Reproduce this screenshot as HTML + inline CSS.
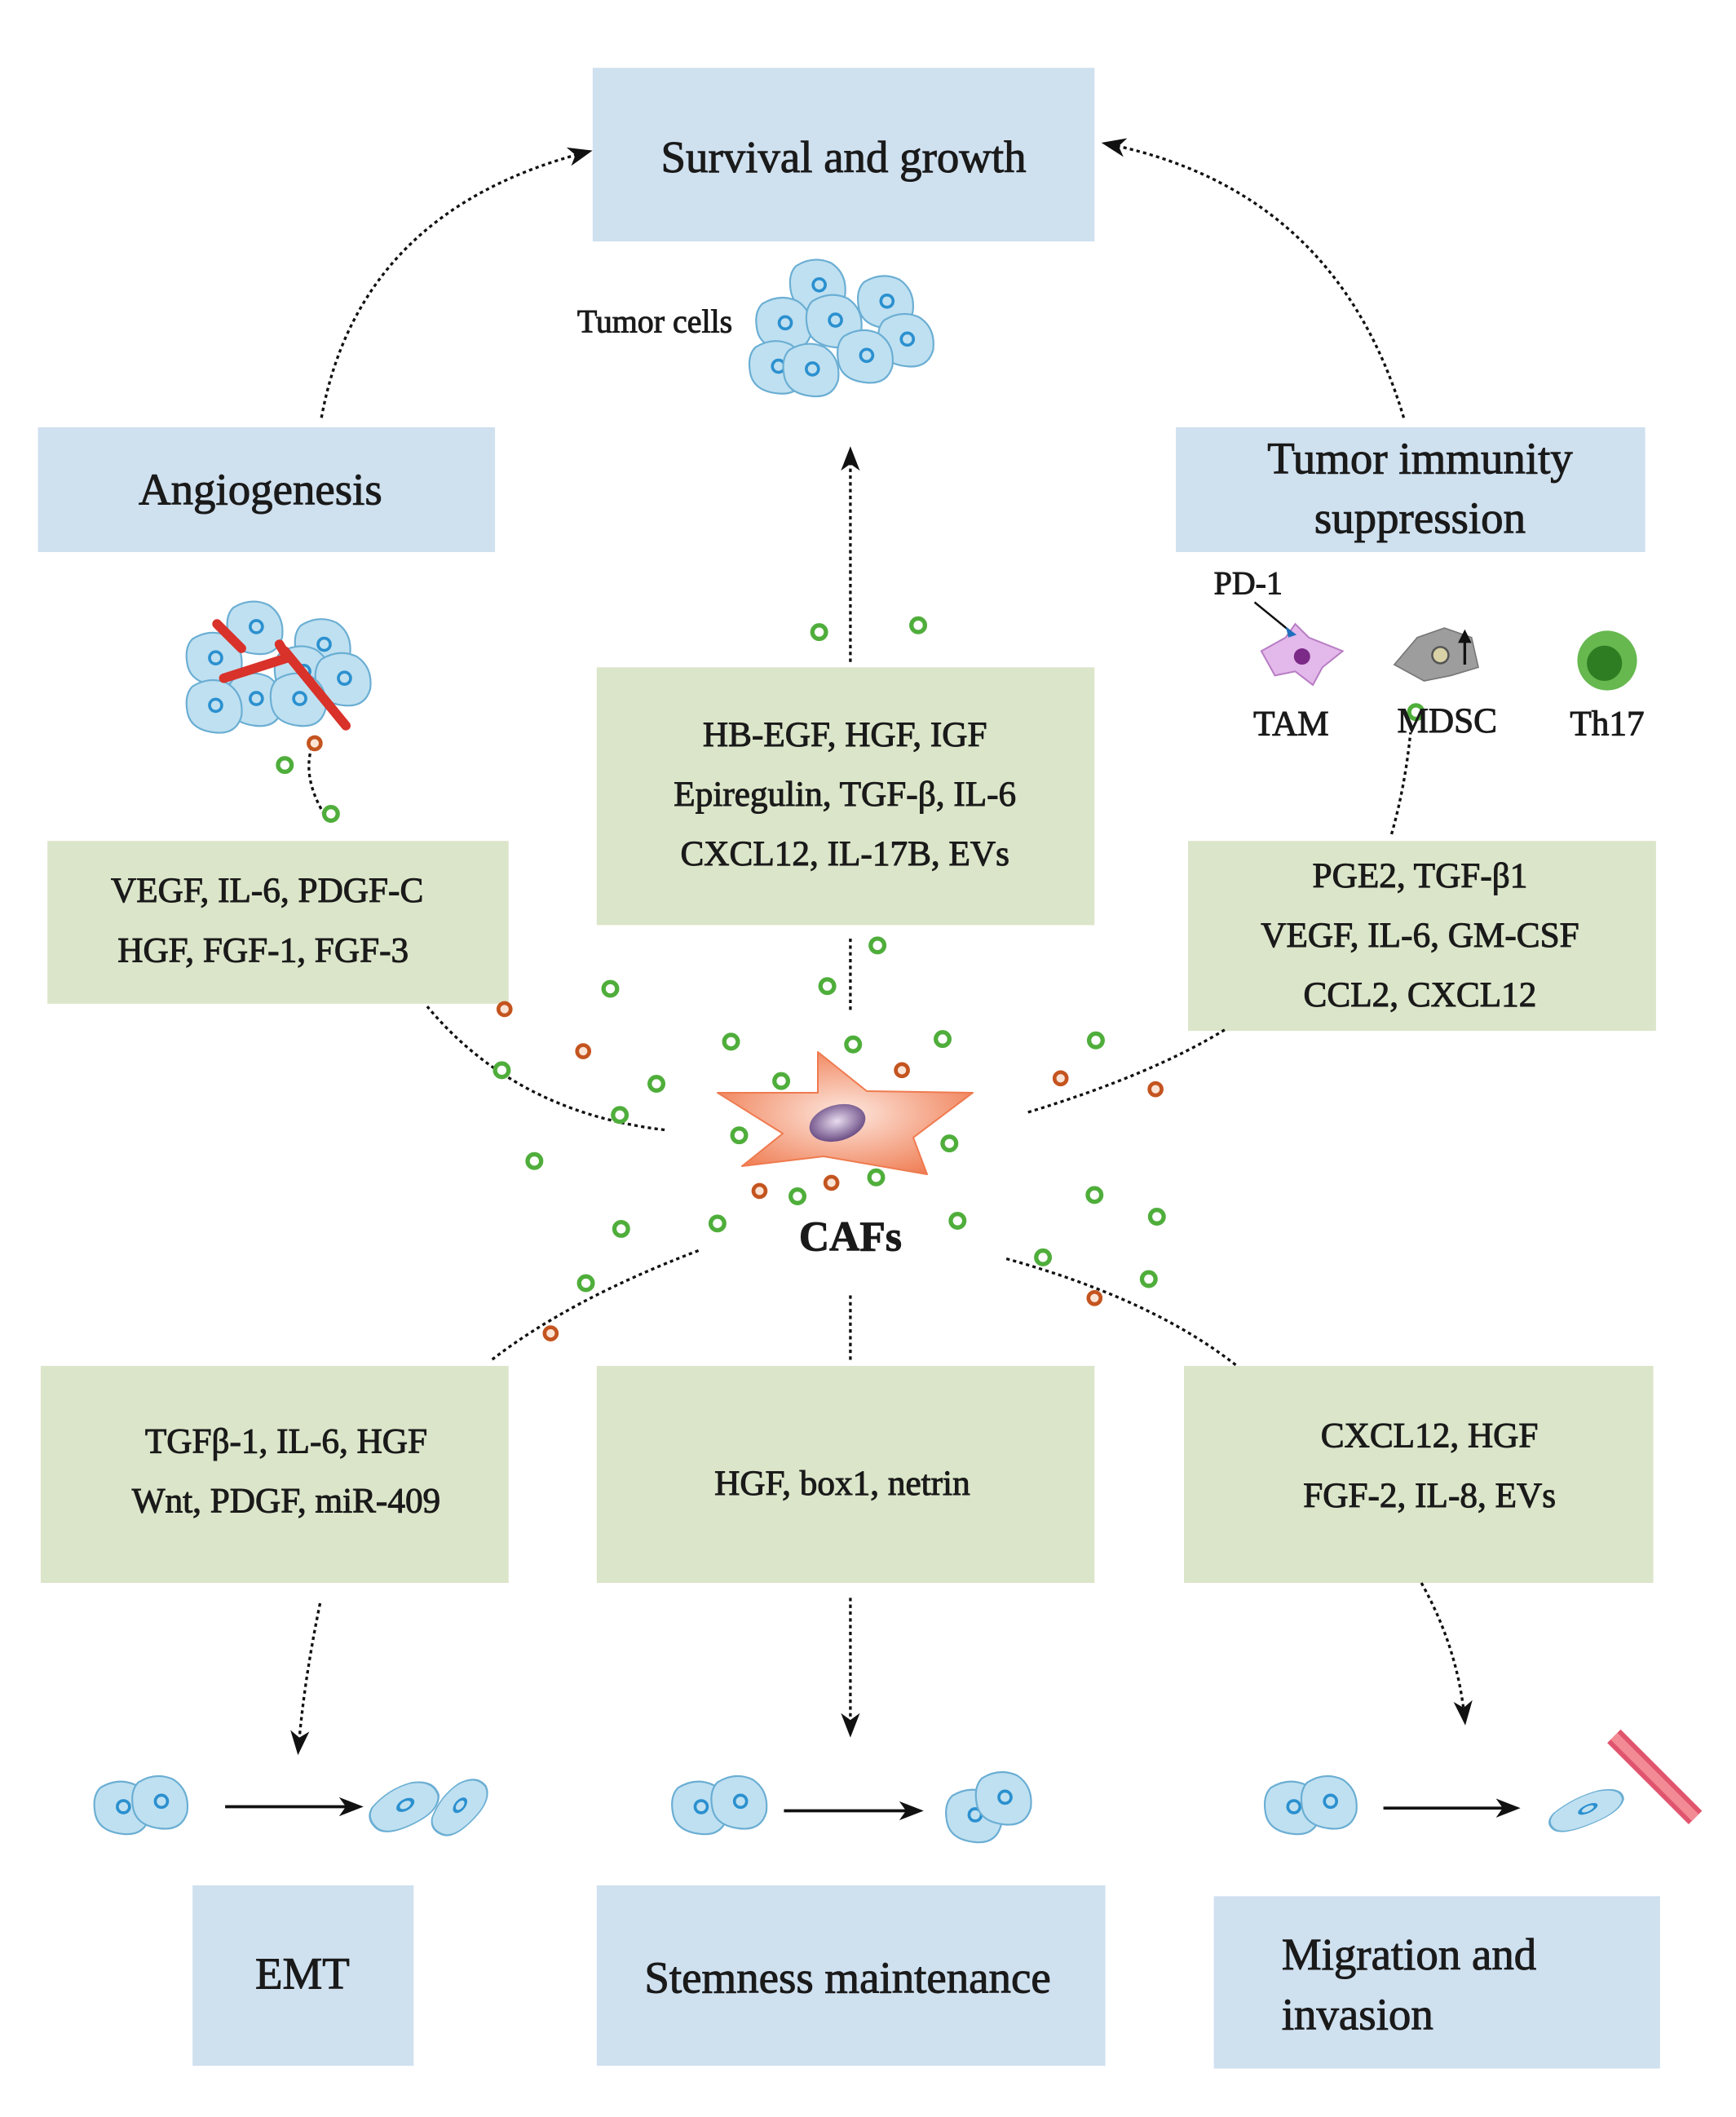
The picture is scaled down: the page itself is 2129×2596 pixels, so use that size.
<!DOCTYPE html>
<html><head><meta charset="utf-8"><style>
html,body{margin:0;padding:0;background:#fff;}
svg{display:block;}
text{font-family:"Liberation Serif",serif;fill:#1a1a1a;stroke:#1a1a1a;stroke-width:0.6px;}
</style></head><body>
<svg width="2129" height="2596" viewBox="0 0 2129 2596" xmlns="http://www.w3.org/2000/svg">
<defs>
<marker id="ah" markerWidth="18" markerHeight="14" refX="14" refY="7" orient="auto" markerUnits="userSpaceOnUse">
<path d="M0,0 L18,7 L0,14 L5,7 Z" fill="#111"/></marker>
<radialGradient id="star" cx="0.5" cy="0.5" r="0.6"><stop offset="0" stop-color="#fde7de"/><stop offset="1" stop-color="#ef7a4f"/></radialGradient>
<radialGradient id="nuc" cx="0.5" cy="0.45" r="0.6"><stop offset="0" stop-color="#e9dcef"/><stop offset="1" stop-color="#5e3f7a"/></radialGradient>
<g id="cell"><path d="M-18,-14 Q-5,-22 8,-16 Q20,-8 18,8 Q14,22 -2,20 Q-20,18 -22,4 Q-24,-8 -18,-14Z" fill="#bfe0f1" stroke="#6aaed3" stroke-width="1.3"/><circle cx="-1" cy="0" r="4.5" fill="none" stroke="#2b90cf" stroke-width="2.2"/></g>
<g id="gd"><circle r="5" fill="#fff" stroke="#4fae3b" stroke-width="3.2"/></g>
<g id="od"><circle r="4.5" fill="#fbe4d6" stroke="#c4541f" stroke-width="2.8"/></g>
</defs>

<g transform="scale(1.6633)">
<g fill="#cfe0ef">
<rect x="437" y="50" width="370" height="128"/>
<rect x="28" y="315" width="337" height="92"/>
<rect x="867" y="315" width="346" height="92"/>
<rect x="142" y="1390" width="163" height="133"/>
<rect x="440" y="1390" width="375" height="133"/>
<rect x="895" y="1398" width="329" height="127"/>
</g>
<g fill="#dbe5c9">
<rect x="440" y="492" width="367" height="190"/>
<rect x="35" y="620" width="340" height="120"/>
<rect x="876" y="620" width="345" height="140"/>
<rect x="30" y="1007" width="345" height="160"/>
<rect x="440" y="1007" width="367" height="160"/>
<rect x="873" y="1007" width="346" height="160"/>
</g>

<g fill="none" stroke="#111" stroke-width="2" stroke-dasharray="2.5 2.5">
<path d="M237,308 Q265,155 433,112" marker-end="url(#ah)"/>
<path d="M1035,308 Q985,140 816,106" marker-end="url(#ah)"/>
<path d="M627,488 L627,333" marker-end="url(#ah)"/>
<path d="M627,692 L627,745"/>
<path d="M490,833 Q380,820 315,742"/>
<path d="M242,605 Q220,572 232,545"/>
<path d="M758,820 Q850,792 905,758"/>
<path d="M1026,615 Q1036,580 1040,540"/>
<path d="M515,922 Q420,958 362,1003"/>
<path d="M627,955 L627,1005"/>
<path d="M742,928 Q850,958 912,1007"/>
<path d="M236,1182 Q224,1240 220,1290" marker-end="url(#ah)"/>
<path d="M627,1178 L627,1277" marker-end="url(#ah)"/>
<path d="M1048,1167 Q1075,1215 1080,1268" marker-end="url(#ah)"/>
</g>
<g stroke="#111" stroke-width="2.2" fill="none">
<path d="M166,1332 L264,1332" marker-end="url(#ah)"/>
<path d="M578,1335 L677,1335" marker-end="url(#ah)"/>
<path d="M1020,1333 L1117,1333" marker-end="url(#ah)"/>
</g>

<g>
<use href="#cell" x="605" y="210"/><use href="#cell" x="655" y="222"/><use href="#cell" x="580" y="238"/>
<use href="#cell" x="617" y="236"/><use href="#cell" x="670" y="250"/><use href="#cell" x="640" y="262"/>
<use href="#cell" x="575" y="270"/><use href="#cell" x="600" y="272"/>
</g>
<g>
<use href="#cell" x="160" y="485"/><use href="#cell" x="190" y="462"/><use href="#cell" x="240" y="475"/>
<use href="#cell" x="225" y="495"/><use href="#cell" x="255" y="500"/><use href="#cell" x="190" y="515"/>
<use href="#cell" x="160" y="520"/><use href="#cell" x="222" y="515"/>
<path d="M165,500 L212,485 L206,475 M210,480 L255,535" stroke="#d8322a" stroke-width="7" fill="none" stroke-linecap="round"/>
<path d="M160,460 L178,478" stroke="#d8322a" stroke-width="7" stroke-linecap="round"/>
</g>
<path d="M930,480 L948,470 L955,460 L965,470 L990,480 L975,492 L968,505 L955,495 L940,498 Z" fill="#e3b8ea" stroke="#b77dc4" stroke-width="1.2"/>
<circle cx="960" cy="484" r="6" fill="#7b2a87"/>
<path d="M925,444 L952,466" stroke="#111" stroke-width="1.5"/><path d="M948,462 L956,468 L950,470Z" fill="#1f6fbf"/>
<path d="M1028,490 L1045,470 L1065,463 L1085,470 L1090,492 L1070,498 L1050,502 Z" fill="#9d9d9d" stroke="#777" stroke-width="1"/>
<circle cx="1062" cy="483" r="6" fill="#d9d2a7" stroke="#555" stroke-width="1.5"/>
<path d="M1080,490 L1080,468" stroke="#111" stroke-width="2"/><path d="M1075,474 L1080,464 L1085,474Z" fill="#111"/>
<circle cx="1185" cy="487" r="22" fill="#66b84f"/><circle cx="1183" cy="489" r="13" fill="#2e7d22"/>

<use href="#cell" x="92" y="1332"/><use href="#cell" x="120" y="1328"/>
<g transform="translate(300,1330) rotate(-30) scale(1.3,0.75)"><use href="#cell"/></g>
<g transform="translate(340,1330) rotate(-50) scale(1.2,0.7)"><use href="#cell"/></g>
<use href="#cell" x="518" y="1332"/><use href="#cell" x="547" y="1328"/>
<use href="#cell" x="720" y="1338"/><use href="#cell" x="742" y="1325"/>
<use href="#cell" x="955" y="1332"/><use href="#cell" x="982" y="1328"/>
<g transform="translate(1172,1333) rotate(-25) scale(1.4,0.55)"><use href="#cell"/></g>
<path d="M1190,1280 L1250,1340" stroke="#e0556d" stroke-width="14"/>
<path d="M1190,1280 L1250,1340" stroke="#f38b95" stroke-width="7"/>

<g>
<use href="#gd" x="604" y="466"/><use href="#gd" x="677" y="461"/><use href="#gd" x="210" y="564"/><use href="#gd" x="244" y="600"/>
<use href="#od" x="232" y="548"/><use href="#gd" x="1044" y="525"/>
<use href="#gd" x="647" y="697"/><use href="#gd" x="450" y="729"/><use href="#gd" x="610" y="727"/>
<use href="#od" x="372" y="744"/><use href="#od" x="430" y="775"/><use href="#gd" x="370" y="789"/>
<use href="#gd" x="484" y="799"/><use href="#gd" x="457" y="822"/><use href="#gd" x="539" y="768"/>
<use href="#gd" x="629" y="770"/><use href="#gd" x="695" y="766"/><use href="#gd" x="576" y="797"/>
<use href="#od" x="665" y="789"/><use href="#gd" x="808" y="767"/><use href="#od" x="782" y="795"/>
<use href="#od" x="852" y="803"/><use href="#gd" x="545" y="837"/><use href="#gd" x="700" y="843"/>
<use href="#gd" x="394" y="856"/><use href="#od" x="560" y="878"/><use href="#gd" x="588" y="882"/>
<use href="#od" x="613" y="872"/><use href="#gd" x="646" y="868"/><use href="#gd" x="807" y="881"/>
<use href="#gd" x="529" y="902"/><use href="#gd" x="706" y="900"/><use href="#gd" x="458" y="906"/>
<use href="#gd" x="853" y="897"/><use href="#gd" x="769" y="927"/><use href="#gd" x="432" y="946"/>
<use href="#gd" x="847" y="943"/><use href="#od" x="807" y="957"/><use href="#od" x="406" y="983"/>
</g>

<g text-anchor="middle">
<text x="622" y="127" font-size="33">Survival and growth</text>
<text x="192" y="372" font-size="33">Angiogenesis</text>
<text x="1047" y="349" font-size="33">Tumor immunity</text>
<text x="1047" y="393" font-size="33">suppression</text>
<g font-size="26">
<text x="623" y="550">HB-EGF, HGF, IGF</text>
<text x="623" y="594">Epiregulin, TGF-β, IL-6</text>
<text x="623" y="638">CXCL12, IL-17B, EVs</text>
<text x="197" y="665">VEGF, IL-6, PDGF-C</text>
<text x="194" y="709">HGF, FGF-1, FGF-3</text>
<text x="1047" y="654">PGE2, TGF-β1</text>
<text x="1047" y="698">VEGF, IL-6, GM-CSF</text>
<text x="1047" y="742">CCL2, CXCL12</text>
<text x="211" y="1071">TGFβ-1, IL-6, HGF</text>
<text x="211" y="1115">Wnt, PDGF, miR-409</text>
<text x="621" y="1102">HGF, box1, netrin</text>
<text x="1054" y="1067">CXCL12, HGF</text>
<text x="1054" y="1111">FGF-2, IL-8, EVs</text>
<text x="952" y="542">TAM</text>
<text x="1067" y="540">MDSC</text>
<text x="1185" y="542">Th17</text>
</g>
<text x="627" y="922" font-size="31" font-weight="bold" stroke-width="0">CAFs</text>
<text x="223" y="1466" font-size="33">EMT</text>
<text x="625" y="1469" font-size="33">Stemness maintenance</text>
</g>
<text x="540" y="245" font-size="24" text-anchor="end">Tumor cells</text>
<text x="895" y="438" font-size="24">PD-1</text>
<text x="945" y="1452" font-size="33">Migration and</text>
<text x="945" y="1496" font-size="33">invasion</text>
</g>

<path d="M880,1340 L1003,1340 L1003,1290 L1063,1338 L1193,1340 L1120,1395 L1137,1440 L1010,1418 L910,1430 L960,1390 Z" fill="url(#star)" stroke="#ef7a4f" stroke-width="2" stroke-linejoin="round"/>
<ellipse cx="1027" cy="1377" rx="35" ry="22" transform="rotate(-15 1027 1377)" fill="url(#nuc)"/>
</svg>
</body></html>
